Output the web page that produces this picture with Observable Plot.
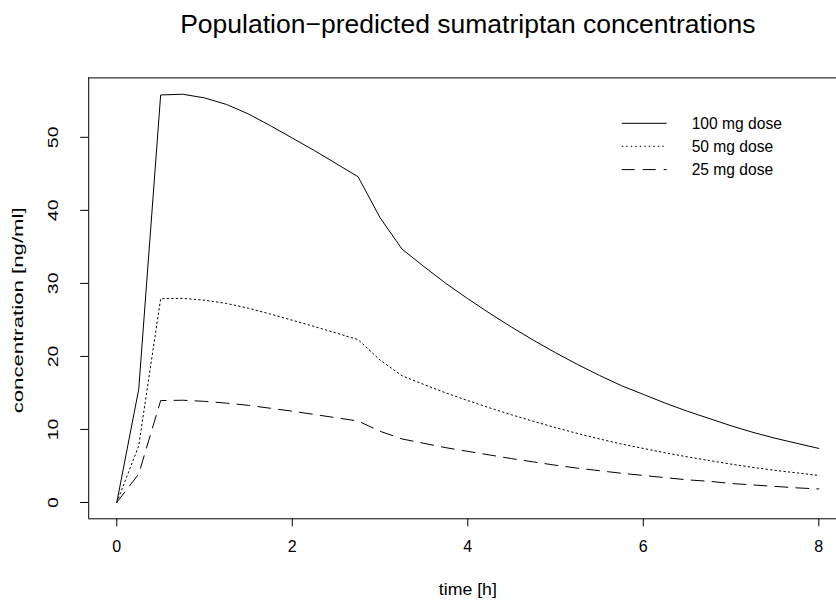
<!DOCTYPE html>
<html><head><meta charset="utf-8">
<script src="https://cdn.jsdelivr.net/npm/d3@7"></script>
<script src="https://cdn.jsdelivr.net/npm/@observablehq/plot@0.6"></script>
<style>
body{margin:0;background:#fff}
#chart svg{font-family:"Liberation Sans",Arial,Helvetica,sans-serif}
</style>
</head><body><div id="chart"></div>
<script>
const time = [0,0.25,0.5,0.75,1,1.25,1.5,1.75,2,2.25,2.5,2.75,3,3.25,3.5,3.75,4,4.25,4.5,4.75,5,5.25,5.5,5.75,6,6.25,6.5,6.75,7,7.25,7.5,7.75,8];
const dose100 = [0,15.5,55.8,55.9,55.4,54.5,53.2,51.6,49.9,48.2,46.4,44.6,39.0,34.7,32.3,30.0,27.9,25.9,24.0,22.2,20.5,18.9,17.4,16.0,14.8,13.6,12.5,11.5,10.5,9.6,8.8,8.1,7.4];
const dose50 = [0,7.75,27.9,27.95,27.7,27.25,26.6,25.8,24.95,24.1,23.2,22.3,19.5,17.35,16.15,15.0,13.95,12.95,12.0,11.1,10.25,9.45,8.7,8.0,7.4,6.8,6.25,5.75,5.25,4.8,4.4,4.05,3.7];
const dose25 = [0,3.9,13.95,14.0,13.85,13.6,13.3,12.9,12.5,12.05,11.6,11.15,9.75,8.7,8.1,7.5,7.0,6.5,6.0,5.55,5.1,4.7,4.35,4.0,3.7,3.4,3.1,2.9,2.6,2.4,2.2,2.0,1.85];
const seriesNames = ["100 mg dose","50 mg dose","25 mg dose"];
const xTicks = [0,2,4,6,8];
const yTicks = [0,10,20,30,40,50];
const titleText = "Population\u2212predicted sumatriptan concentrations";
const xLabel = "time [h]";
const yLabel = "concentration [ng/ml]";

const dashes = ["none","1.5 3","13 8"];
const valuesBySeries = [dose100, dose50, dose25];
const rows = seriesNames.flatMap((s, i) => time.map((t, j) => ({series: s, time: t, conc: valuesBySeries[i][j]})));

// R-style 4% axis extension
const xmin = d3.min(time), xmax = d3.max(time);
const ymin = d3.min(rows, d => d.conc), ymax = d3.max(rows, d => d.conc);
const xd = [xmin - 0.04*(xmax-xmin), xmax + 0.04*(xmax-xmin)];
const yd = [ymin - 0.04*(ymax-ymin), ymax + 0.04*(ymax-ymin)];

const W = 836, H = 601, mL = 88.2, mT = 77.4, mB = 82.7;
const FONT = '"Liberation Sans",Arial,Helvetica,sans-serif';
const plot = Plot.plot({
  width: W, height: H,
  marginLeft: mL, marginRight: 0, marginTop: mT, marginBottom: mB,
  x: {domain: xd, range: [mL, 846.4]},
  y: {domain: yd},
  style: {fontFamily: FONT, fontSize: "15px", color: "black", background: "white"},
  marks: [
    Plot.ruleY([yd[0], yd[1]], {stroke: "black", strokeWidth: 1}),
    Plot.ruleX([xd[0]], {stroke: "black", strokeWidth: 1}),
    Plot.axisX(xTicks, {tickSize: 8, tickFormat: () => "", label: null, stroke: "black"}),
    Plot.axisY(yTicks, {tickSize: 8, tickFormat: () => "", label: null, stroke: "black"}),
    Plot.text(xTicks, {x: d => d, frameAnchor: "bottom", dy: 33, text: d => String(d), fontSize: 16, fill: "black", className: "xtl"}),
    Plot.text(yTicks, {y: d => d, frameAnchor: "left", dx: -36, rotate: -90, textAnchor: "middle", text: d => String(d), fontSize: 15, fill: "black", className: "ytl"}),
    ...seriesNames.map((s, i) => Plot.line(rows.filter(d => d.series === s), {x: "time", y: "conc", stroke: "black", strokeWidth: 1, strokeDasharray: dashes[i]})),
    Plot.text([xLabel], {x: () => (xd[0]+xd[1])/2, frameAnchor: "bottom", dy: 76.5, text: d => d, fontSize: 16, fill: "black", className: "xlab"}),
    Plot.text([yLabel], {frameAnchor: "left", dx: -71, dy: 12, rotate: -90, textAnchor: "middle", text: d => d, fontSize: 15, fill: "black", className: "ylab"}),
    Plot.text([titleText], {x: () => (xd[0]+xd[1])/2, frameAnchor: "top", dy: -45, lineAnchor: "bottom", text: d => d, fontSize: 26.5, fill: "black"})
  ]
});
document.getElementById("chart").appendChild(plot);

const svg = d3.select(plot);
// the reference's text is drawn elongated along its reading direction
svg.selectAll(".ytl text").each(function() {
  const n = this.textContent.length;
  d3.select(this).attr("textLength", 10.85 * n).attr("lengthAdjust", "spacingAndGlyphs");
});
svg.selectAll(".ylab text").attr("textLength", 206).attr("lengthAdjust", "spacingAndGlyphs");
svg.selectAll(".xlab text").attr("textLength", 58).attr("lengthAdjust", "spacingAndGlyphs");

// legend (R-style, top right, no box)
const lg = svg.append("g").attr("text-anchor", "start");
const ly = [123.3, 146.3, 169.6];
seriesNames.forEach((s, i) => {
  lg.append("line").attr("x1", 621.7).attr("x2", 666.7).attr("y1", ly[i]).attr("y2", ly[i])
    .attr("stroke", "black").attr("stroke-width", 1).attr("stroke-dasharray", dashes[i]);
  lg.append("text").attr("x", 691.7).attr("y", ly[i]).attr("dy", "0.35em")
    .attr("font-size", 15.6).attr("fill", "black").attr("text-anchor", "start").text(s);
});
</script>
</body></html>
